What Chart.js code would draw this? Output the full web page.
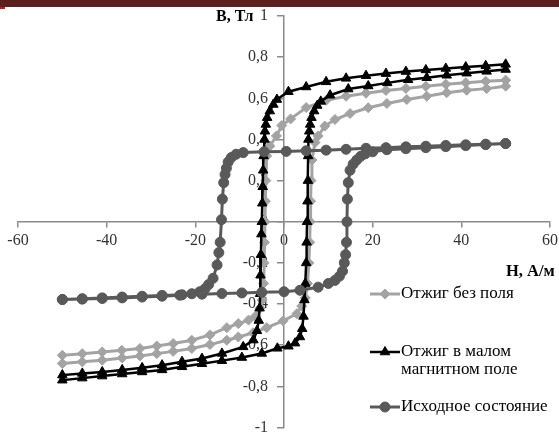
<!DOCTYPE html>
<html>
<head>
<meta charset="utf-8">
<script src="https://cdn.jsdelivr.net/npm/chart.js@4/dist/chart.umd.min.js"></script>
<style>
html,body{margin:0;padding:0;background:#fff;}
#wrap{position:relative;width:559px;height:434px;}
canvas{display:block;}
</style>
</head>
<body>
<div id="wrap"><canvas id="c" width="559" height="434"></canvas></div>
<script>
// ---- Data (H in A/m, B in T) ----
const seriesNames = ['Отжиг без поля', 'Отжиг в малом магнитном поле', 'Исходное состояние'];

// "Отжиг без поля" (annealed without field)
const annealHDesc = [50,45.5,41,36.5,32,27.5,23,18.5,14,9.5, 5,1.5,-0.5,-1.7,-3.2,-3.9,-4.1,-4.2,-4.3,-4.4, -4.5,-4.6,-4.9,-5.4,-6.5,-8,-10.3,-12.9,-16.7,-20.8, -25,-28.7,-32.5,-36.6,-41,-45.5,-50];
const annealBDesc = [0.688,0.683,0.676,0.668,0.658,0.648,0.638,0.625,0.61,0.59, 0.555,0.5,0.468,0.417,0.368,0.32,0.2,0.1,0,-0.1, -0.2,-0.3,-0.38,-0.42,-0.46,-0.478,-0.495,-0.515,-0.55,-0.576, -0.592,-0.604,-0.616,-0.625,-0.633,-0.641,-0.649];
const annealHAsc = [-50,-45.5,-41,-36.5,-32.5,-28.7,-25,-20.8,-16.7,-12.9, -10.3,-7,-3.9,-0.2,2.9,4,4.8,5.3,5.6,5.8, 5.9,6,6.1,6.3,7,7.7,9.2,11.5,14.9,19, 23.2,27.7,32.2,36.7,41.2,45.7,50];
const annealBAsc = [-0.689,-0.681,-0.673,-0.662,-0.652,-0.641,-0.63,-0.616,-0.597,-0.576, -0.56,-0.54,-0.515,-0.482,-0.447,-0.41,-0.37,-0.3,-0.2,-0.1, 0,0.1,0.2,0.3,0.385,0.417,0.465,0.497,0.526,0.554, 0.575,0.594,0.61,0.627,0.639,0.647,0.659];

// "Отжиг в малом магнитном поле" (annealed in small field)
const fieldHDesc = [50,45.5,41,36.5,32,27.5,23,18.5,14,9.5, 5,1,-1.6,-2.4,-3.2,-3.8,-4.1,-4.3,-4.4,-4.6, -4.7,-4.8,-4.9,-5,-5.1,-5.2,-5.3,-5.4,-5.5,-5.7, -6.1,-6.9,-9.2,-14,-18.5,-23,-27.5,-32,-36.5,-41, -45.5,-50];
const fieldBDesc = [0.765,0.758,0.752,0.745,0.738,0.73,0.72,0.71,0.697,0.68, 0.655,0.632,0.594,0.57,0.538,0.506,0.473,0.44,0.4,0.32, 0.25,0.17,0.09,0,-0.06,-0.16,-0.26,-0.35,-0.42,-0.48, -0.53,-0.575,-0.608,-0.64,-0.665,-0.68,-0.697,-0.71,-0.72,-0.73, -0.737,-0.745];
const fieldHAsc = [-50,-45.5,-41,-36.5,-32,-27.5,-23,-18.5,-14,-9.5, -5,-1.5,1,2.5,3.6,4.1,4.4,4.6,4.8,5, 5.1,5.2,5.3,5.4,5.45,5.5,5.7,5.9,6.2,6.8, 7.5,8.3,10.4,14.5,19,23.3,28,32.2,36.7,41.2, 45.7,50];
const fieldBAsc = [-0.77,-0.76,-0.75,-0.74,-0.73,-0.72,-0.705,-0.69,-0.675,-0.66, -0.64,-0.615,-0.605,-0.59,-0.56,-0.52,-0.46,-0.38,-0.3,-0.2, -0.1,0,0.1,0.2,0.32,0.4,0.44,0.473,0.506,0.538, 0.565,0.585,0.615,0.645,0.66,0.675,0.69,0.7,0.712,0.722, 0.731,0.74];

// "Исходное состояние" (initial state)
const initHDesc = [50,45.5,41,36.5,32,27.5,23,18.5,14,9.5, 5,0.5,-4.5,-9.2,-10.8,-11.9,-12.6,-13,-13.3,-13.6, -13.9,-14.1,-14.4,-14.7,-15.1,-16,-17,-17.8,-19,-20.8, -23.5,-27.5,-32,-36.5,-41,-45.5,-50];
const initBDesc = [0.38,0.377,0.374,0.371,0.367,0.364,0.36,0.357,0.352,0.348, 0.345,0.342,0.34,0.336,0.328,0.312,0.29,0.26,0.23,0.19, 0.11,0.01,-0.1,-0.15,-0.21,-0.275,-0.305,-0.325,-0.34,-0.35, -0.357,-0.362,-0.366,-0.37,-0.373,-0.376,-0.378];
const initHAsc = [-50,-45.5,-41,-36.5,-32,-27.5,-23,-18.5,-14,-9.5, -5,0,3.6,7.7,10,11.5,12.5,13.2,13.6,13.9, 14.1,14.2,14.3,14.5,14.9,15.6,16.4,17.3,18.3,20, 23.2,27.5,32,36.5,41,45.5,50];
const initBAsc = [-0.378,-0.374,-0.37,-0.366,-0.362,-0.358,-0.355,-0.352,-0.349,-0.346, -0.343,-0.34,-0.333,-0.318,-0.3,-0.285,-0.265,-0.24,-0.2,-0.16, -0.1,0,0.11,0.19,0.25,0.28,0.3,0.318,0.33,0.34, 0.35,0.355,0.36,0.365,0.37,0.375,0.38];

// Tick labels
const xTickLabels = ['-60','-40','-20','0','20','40','60'];
const yTickLabels = ['-1','-0,8','-0,6','-0,4','-0,2','0','0,2','0,4','0,6','0,8','1'];
const xAxisTitle = 'H, А/м';
const yAxisTitle = 'B, Тл';

function loop(hd, bd, ha, ba) {
  const pts = [];
  hd.forEach((h, i) => pts.push({x: h, y: bd[i]}));
  ha.forEach((h, i) => pts.push({x: h, y: ba[i]}));
  return pts;
}

const GRAY = '#a3a3a3', BLACK = '#000000', DARK = '#595959';
const styles = [
  {color: GRAY, pointStyle: 'rectRot', radius: 5, width: 3},
  {color: BLACK, pointStyle: 'triangle', radius: 5.5, width: 2.5},
  {color: DARK, pointStyle: 'circle', radius: 5, width: 3}
];

const decor = {
  id: 'decor',
  beforeDraw(chart) {
    const ctx = chart.ctx;
    ctx.save();
    ctx.fillStyle = '#ffffff';
    ctx.fillRect(0, 0, chart.width, chart.height);
    ctx.fillStyle = '#5c1f1f';
    ctx.fillRect(0, 0, chart.width, 7);
    ctx.fillStyle = '#b02020';
    ctx.fillRect(0, 7, 5, 2);
    ctx.restore();
  },
  afterDraw(chart) {
    const ctx = chart.ctx;
    ctx.save();
    ctx.fillStyle = '#000';
    ctx.textBaseline = 'middle';
    ctx.textAlign = 'left';
    ctx.font = 'bold 16px "Liberation Serif"';
    ctx.fillText(yAxisTitle, 216, 17);
    ctx.font = 'bold 16.5px "Liberation Serif"';
    ctx.fillText(xAxisTitle, 506, 272);
    // legend
    const items = [
      {s: styles[0], y: 294, lines: [seriesNames[0]]},
      {s: styles[1], y: 352, lines: ['Отжиг в малом', 'магнитном поле']},
      {s: styles[2], y: 407, lines: [seriesNames[2]]}
    ];
    items.forEach(it => {
      ctx.strokeStyle = it.s.color;
      ctx.lineWidth = it.s.width;
      ctx.beginPath();
      ctx.moveTo(370, it.y);
      ctx.lineTo(400, it.y);
      ctx.stroke();
      ctx.fillStyle = it.s.color;
      ctx.strokeStyle = it.s.color;
      ctx.lineWidth = 1;
      Chart.helpers.drawPoint(ctx, {pointStyle: it.s.pointStyle, radius: it.s.radius, rotation: 0, borderWidth: 1}, 385, it.y);
      ctx.fillStyle = '#000';
      ctx.font = '17px "Liberation Serif"';
      it.lines.forEach((t, k) => ctx.fillText(t, 401, it.y + k * 18));
    });
    ctx.restore();
  }
};

const tickFont = {family: '"Liberation Serif"', size: 16};
const yLabelGap = '\u00a0\u00a0\u00a0\u00a0';

new Chart(document.getElementById('c'), {
  type: 'scatter',
  data: {
    datasets: [
      {label: seriesNames[0], data: loop(annealHDesc, annealBDesc, annealHAsc, annealBAsc), order: 3},
      {label: seriesNames[1], data: loop(fieldHDesc, fieldBDesc, fieldHAsc, fieldBAsc), order: 2},
      {label: seriesNames[2], data: loop(initHDesc, initBDesc, initHAsc, initBAsc), order: 1}
    ].map((d, i) => Object.assign(d, {
      showLine: true,
      fill: false,
      tension: 0,
      borderColor: styles[i].color,
      backgroundColor: styles[i].color,
      borderWidth: styles[i].width,
      pointStyle: styles[i].pointStyle,
      pointRadius: styles[i].radius,
      pointBorderWidth: 1,
      pointBorderColor: styles[i].color,
      pointBackgroundColor: styles[i].color
    }))
  },
  options: {
    responsive: false,
    animation: false,
    devicePixelRatio: 1,
    layout: {padding: {left: 18, right: 9, top: 16, bottom: 5}},
    plugins: {legend: {display: false}, tooltip: {enabled: false}},
    scales: {
      x: {
        type: 'linear', min: -60, max: 60,
        position: {y: 0},
        afterFit(s) { s.paddingLeft = 0; s.paddingRight = 0; },
        ticks: {stepSize: 20, font: tickFont, color: '#333', padding: 4, maxRotation: 0, autoSkip: false,
                callback: (v, i) => xTickLabels[i]},
        grid: {display: true, drawOnChartArea: false, drawTicks: true, tickLength: 5, color: '#8a8a8a', lineWidth: 1.5},
        border: {display: true, color: '#8a8a8a', width: 1.5}
      },
      y: {
        type: 'linear', min: -1, max: 1,
        position: {x: 0},
        afterFit(s) { s.paddingTop = 0; s.paddingBottom = 0; },
        ticks: {stepSize: 0.2, font: tickFont, color: '#333', padding: 12, autoSkip: false,
                callback: (v, i) => yTickLabels[i] + yLabelGap},
        grid: {display: true, drawOnChartArea: false, drawTicks: true, tickLength: 6, color: '#8a8a8a', lineWidth: 1.5},
        border: {display: true, color: '#8a8a8a', width: 1.5}
      }
    }
  },
  plugins: [decor]
});
</script>
</body>
</html>
